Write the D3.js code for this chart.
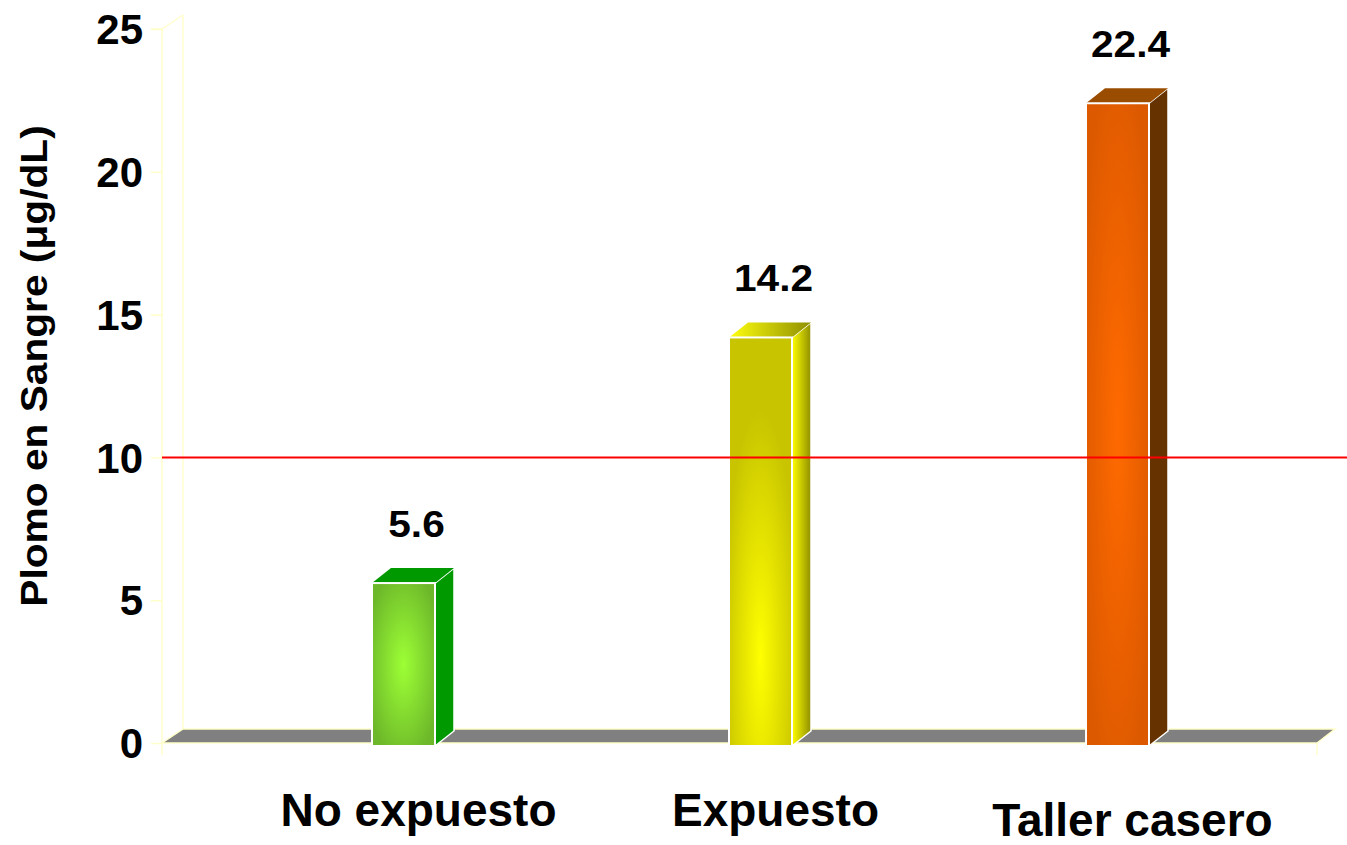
<!DOCTYPE html>
<html>
<head>
<meta charset="utf-8">
<script src="https://cdn.jsdelivr.net/npm/d3@7"></script>
<style>
  html, body { margin: 0; padding: 0; background: #ffffff; }
  svg { display: block; }
  text { font-family: "Liberation Sans", Arial, sans-serif; font-weight: bold; fill: #000; }
</style>
</head>
<body>
<svg id="chart" width="1347" height="845"></svg>
<script>
// ---- data ----
const categories = ["No expuesto", "Expuesto", "Taller casero"];
const values = [5.6, 14.2, 22.4];
const valueLabels = ["5.6", "14.2", "22.4"];
const yTicks = [0, 5, 10, 15, 20, 25];
const referenceLevel = 10;
const yTitle = "Plomo en Sangre (\u03BCg/dL)";

// ---- layout ----
const W = 1347, H = 845;
const svg = d3.select("#chart");
const y = d3.scaleLinear().domain([0, 25]).range([743, 29]);
const x = d3.scaleBand().domain(categories).range([225, 1296]);
const axisX = 162, floorRight = 1317;
const depth = { dx: 21, dy: -14 };
const barDepth = { dx: 19, dy: -15 };
const barW = 63;
const catShift = [0, 0, 10];

const frontCols = [
  { c: "#9dff35", e: "#6db82a" },
  { c: "#ffff00", e: "#c8c400" },
  { c: "#ff6a00", e: "#dc5900" }
];
const sideCols = [["#009900", "#009900"], ["#ffff00", "#8f8f00"], ["#663300", "#663300"]];
const topCols = [["#009900", "#009900"], ["#ffff10", "#8f8f00"], ["#9a4d00", "#9a4d00"]];

const defs = svg.append("defs");
frontCols.forEach((c, i) => {
  const g = defs.append("radialGradient").attr("id", "front" + i)
    .attr("cx", "50%").attr("cy", i === 1 ? "78%" : "50%").attr("r", "60%");
  g.append("stop").attr("offset", "0%").attr("stop-color", c.c);
  g.append("stop").attr("offset", "100%").attr("stop-color", c.e);
  const s = defs.append("linearGradient").attr("id", "side" + i)
    .attr("x1", "0%").attr("x2", "100%").attr("y1", "0%").attr("y2", "0%");
  s.append("stop").attr("offset", "0%").attr("stop-color", sideCols[i][0]);
  s.append("stop").attr("offset", "100%").attr("stop-color", sideCols[i][1]);
  const t = defs.append("linearGradient").attr("id", "top" + i)
    .attr("x1", "0%").attr("x2", "100%").attr("y1", "0%").attr("y2", "0%");
  t.append("stop").attr("offset", "0%").attr("stop-color", topCols[i][0]);
  t.append("stop").attr("offset", "100%").attr("stop-color", topCols[i][1]);
});

const wallCol = "#ffffcc";

// back wall lines
const y0 = y(0), yTop = y(25);
svg.append("line").attr("x1", axisX + depth.dx).attr("x2", axisX + depth.dx)
  .attr("y1", yTop + depth.dy).attr("y2", y0 + depth.dy)
  .attr("stroke", wallCol).attr("stroke-width", 1.5);
svg.append("line").attr("x1", axisX).attr("x2", axisX + depth.dx)
  .attr("y1", yTop).attr("y2", yTop + depth.dy)
  .attr("stroke", wallCol).attr("stroke-width", 1.5);

// floor
const floorPts = [[axisX, y0], [floorRight, y0], [floorRight + depth.dx - 3, y0 + depth.dy],
  [axisX + depth.dx, y0 + depth.dy]];
svg.append("polygon").attr("points", floorPts.map(p => p.join(",")).join(" "))
  .attr("fill", "#808080").attr("stroke", wallCol).attr("stroke-width", 1.5);
svg.append("line").attr("x1", floorRight).attr("x2", floorRight)
  .attr("y1", y0).attr("y2", y0 + 12).attr("stroke", wallCol).attr("stroke-width", 1.5);

// y axis
const axis = d3.axisLeft(y).tickValues(yTicks).tickSize(11).tickPadding(8);
const ag = svg.append("g").attr("transform", `translate(${axisX},0)`).call(axis);
ag.select(".domain").attr("stroke", wallCol).attr("stroke-width", 1.5)
  .attr("d", `M-11,${yTop}H0V${y0 + 12}`);
ag.selectAll(".tick line").attr("stroke", wallCol).attr("stroke-width", 1.5);
ag.selectAll(".tick text").attr("font-size", 42).attr("font-weight", "bold")
  .attr("font-family", "Liberation Sans, Arial, sans-serif").attr("fill", "#000")
  .attr("dy", "0.35em");

// bars
const bars = svg.append("g");
categories.forEach((cat, i) => {
  const cx = x(cat) + x.bandwidth() / 2;
  const x0 = cx - barW / 2, x1 = cx + barW / 2;
  const yt = y(values[i]), yb = y(0) + 3;
  const g = bars.append("g");
  g.append("polygon")
    .attr("points", [[x1, yb], [x1 + barDepth.dx, yb + barDepth.dy], [x1 + barDepth.dx, yt + barDepth.dy], [x1, yt]]
      .map(p => p.join(",")).join(" "))
    .attr("fill", `url(#side${i})`).attr("stroke", "#fff").attr("stroke-width", 1.5);
  g.append("polygon")
    .attr("points", [[x0, yt], [x0 + barDepth.dx, yt + barDepth.dy], [x1 + barDepth.dx, yt + barDepth.dy], [x1, yt]]
      .map(p => p.join(",")).join(" "))
    .attr("fill", `url(#top${i})`).attr("stroke", "none");
  g.append("rect").attr("x", x0).attr("y", yt).attr("width", barW).attr("height", yb - yt)
    .attr("fill", `url(#front${i})`).attr("stroke", "#fff").attr("stroke-width", 2);
});

// reference line
svg.append("line").attr("x1", axisX).attr("x2", W)
  .attr("y1", y(referenceLevel)).attr("y2", y(referenceLevel))
  .attr("stroke", "#ff0000").attr("stroke-width", 2);

// value labels
categories.forEach((cat, i) => {
  const cx = x(cat) + x.bandwidth() / 2 + 13;
  svg.append("g").attr("transform", `translate(${cx},${y(values[i]) - 46}) scale(1.13,1)`)
    .append("text").attr("text-anchor", "middle").attr("font-size", 36)
    .text(valueLabels[i]);
});

// category labels
categories.forEach((cat, i) => {
  svg.append("text").attr("x", x(cat) + x.bandwidth() / 2 + 15).attr("y", 826 + catShift[i])
    .attr("text-anchor", "middle").attr("font-size", 46).text(cat);
});

// y title
svg.append("g").attr("transform", "translate(47,366) rotate(-90) scale(1.13,1)")
  .append("text").attr("text-anchor", "middle").attr("font-size", 36).text(yTitle);
</script>
</body>
</html>
